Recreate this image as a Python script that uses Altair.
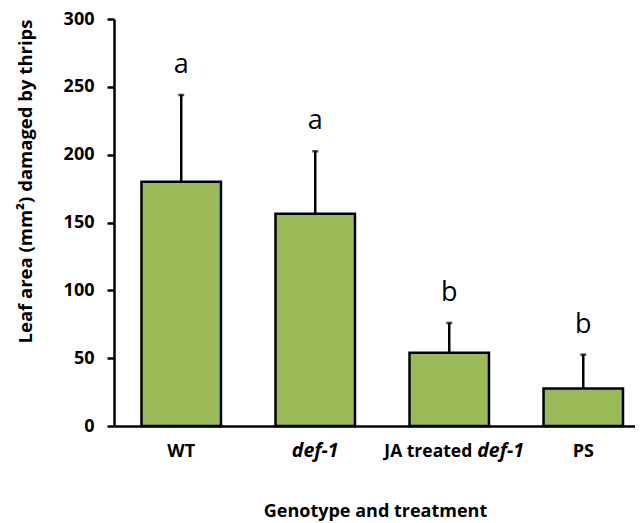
import altair as alt
import pandas as pd

# ---- data ----
categories = ["WT", "def-1", "JA treated def-1", "PS"]
means = [180.0, 156.5, 54.0, 27.7]
upper = [244.0, 202.5, 76.0, 52.6]
letters = ["a", "a", "b", "b"]
y_ticks = [0, 50, 100, 150, 200, 250, 300]

# x tick label pieces
plain_cat = ["WT", "PS"]
plain_text = ["WT", "PS"]
ital_cat = ["def-1"]
ital_text = ["def-1"]

df = pd.DataFrame({"genotype": categories, "mean": means, "upper": upper, "letter": letters})
plain = pd.DataFrame({"genotype": plain_cat, "text": plain_text})
ital = pd.DataFrame({"genotype": ital_cat, "text": ital_text})
ja = pd.DataFrame({"genotype": ["JA treated def-1"], "a": ["JA treated"], "b": ["def-1"]})

FONT = "Open Sans"
W, H = 521, 407
GREEN = "#9BBB59"

xscale = alt.Scale(domain=categories, paddingInner=0.407, paddingOuter=0.1474, align=0.696)
yscale = alt.Scale(domain=[0, 300], nice=False)

X = alt.X(
    "genotype:N",
    scale=xscale,
    axis=alt.Axis(
        title="Genotype and treatment",
        labels=False,
        ticks=False,
        domainColor="black",
        domainWidth=2.5,
        titleFont=FONT,
        titleFontSize=18,
        titleFontWeight="bold",
        titleColor="black",
        titleX=261,
        titleY=85,
        titleAlign="center",
        titleBaseline="middle",
        zindex=1,
    ),
)
Y = alt.Y(
    "mean:Q",
    scale=yscale,
    axis=alt.Axis(
        title="Leaf area (mm²) damaged by thrips",
        values=y_ticks,
        grid=False,
        domainColor="black",
        domainWidth=2.5,
        tickColor="black",
        tickWidth=2.5,
        tickSize=7,
        labelFont=FONT,
        labelFontSize=18,
        labelFontWeight="bold",
        labelColor="black",
        labelPadding=13,
        titleFont=FONT,
        titleFontSize=18.5,
        titleFontWeight="bold",
        titleColor="black",
        titleAngle=270,
        titleX=-89,
        titleY=162,
        titleAlign="center",
        titleBaseline="middle",
        zindex=1,
    ),
)

base = alt.Chart(df)
XS = alt.X("genotype:N", scale=xscale)

bars = base.mark_bar(fill=GREEN, stroke="black", strokeWidth=2.5).encode(x=X, y=Y)

err = base.mark_rule(color="black", strokeWidth=2.5).encode(
    x=XS, y=alt.Y("mean:Q", scale=yscale), y2="upper:Q"
)
caps = base.mark_tick(color="black", size=6, thickness=2.5, orient="horizontal").encode(
    x=XS, y=alt.Y("upper:Q", scale=yscale)
)
lett = base.mark_text(font=FONT, fontSize=27, color="black", baseline="middle", dy=-30).encode(
    x=XS, y=alt.Y("upper:Q", scale=yscale), text="letter:N"
)

txt = dict(font=FONT, fontWeight="bold", color="black", baseline="alphabetic")
lab_plain = alt.Chart(plain).mark_text(fontSize=18, **txt).encode(
    x=XS, y=alt.value(H + 31), text="text:N"
)
lab_ital = alt.Chart(ital).mark_text(fontSize=19.5, fontStyle="italic", **txt).encode(
    x=XS, y=alt.value(H + 31), text="text:N"
)
ja_a = alt.Chart(ja).mark_text(fontSize=17.5, align="right", dx=23, **txt).encode(
    x=XS, y=alt.value(H + 31), text="a:N"
)
ja_b = alt.Chart(ja).mark_text(fontSize=19.5, align="left", dx=28, fontStyle="italic", **txt).encode(
    x=XS, y=alt.value(H + 31), text="b:N"
)

chart = (
    alt.layer(bars, err, caps, lett, lab_plain, lab_ital, ja_a, ja_b)
    .properties(
        width=W,
        height=H,
        autosize=alt.AutoSizeParams(type="none"),
        padding={"left": 106, "top": 11, "right": 0, "bottom": 97},
        background="white",
    )
    .configure_view(stroke=None)
)

chart.save("out.html", embed_options={"renderer": "svg", "actions": False})
